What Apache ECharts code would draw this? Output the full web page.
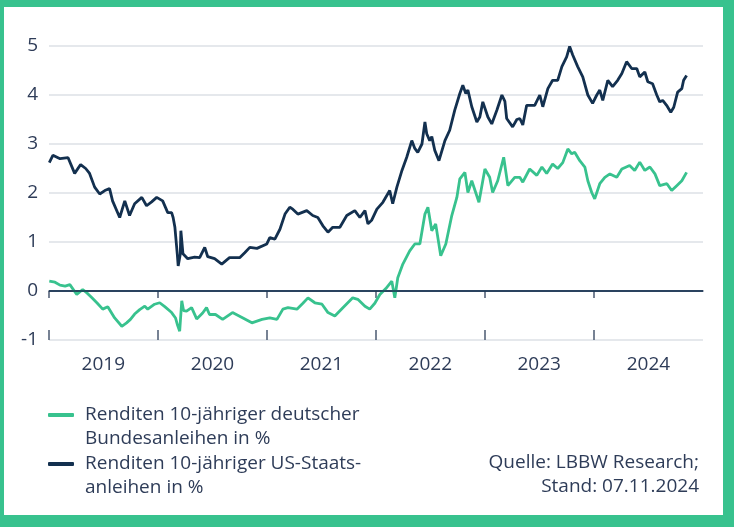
<!DOCTYPE html>
<html><head><meta charset="utf-8">
<script src="https://cdn.jsdelivr.net/npm/echarts@6/dist/echarts.min.js"></script>
<style>html,body{margin:0;padding:0;background:#38c28e}#c{width:734px;height:527px}</style>
</head><body><div id="c"></div>
<script>
const yearTicks = ['2019','2020','2021','2022','2023','2024'];
const yTicks = [-1,0,1,2,3,4,5];
const seriesNames = ['Renditen 10-jähriger deutscher\nBundesanleihen in %','Renditen 10-jähriger US-Staats-\nanleihen in %'];
const sourceLines = ['Quelle: LBBW Research;', 'Stand: 07.11.2024'];

const deDates = ['2019-01-02','2019-01-21','2019-02-07','2019-02-24','2019-03-12','2019-04-04','2019-04-24','2019-05-10','2019-05-25','2019-06-12','2019-06-30','2019-07-17','2019-08-09','2019-09-02','2019-09-18','2019-10-01','2019-10-15','2019-11-01','2019-11-18','2019-11-28','2019-12-21','2020-01-07','2020-01-24','2020-02-16','2020-02-29','2020-03-07','2020-03-14','2020-03-21','2020-03-27','2020-04-06','2020-04-23','2020-05-10','2020-05-30','2020-06-12','2020-06-22','2020-07-12','2020-08-05','2020-09-07','2020-10-12','2020-11-11','2020-12-15','2021-01-10','2021-02-03','2021-02-23','2021-03-12','2021-04-11','2021-05-01','2021-05-18','2021-06-10','2021-07-04','2021-07-24','2021-08-16','2021-09-12','2021-10-15','2021-11-01','2021-11-25','2021-12-11','2021-12-28','2022-01-14','2022-02-03','2022-02-23','2022-03-05','2022-03-15','2022-04-01','2022-04-24','2022-05-11','2022-05-28','2022-06-14','2022-06-24','2022-07-07','2022-07-20','2022-08-06','2022-08-23','2022-09-12','2022-09-29','2022-10-09','2022-10-26','2022-11-05','2022-11-18','2022-12-12','2023-01-01','2023-01-17','2023-01-27','2023-02-13','2023-03-05','2023-03-19','2023-04-11','2023-04-28','2023-05-08','2023-05-31','2023-06-24','2023-07-11','2023-07-27','2023-08-16','2023-09-02','2023-09-19','2023-10-06','2023-10-19','2023-10-29','2023-11-15','2023-12-02','2023-12-12','2023-12-25','2024-01-04','2024-01-21','2024-02-07','2024-02-24','2024-03-18','2024-04-04','2024-04-30','2024-05-17','2024-06-03','2024-06-20','2024-07-07','2024-07-24','2024-08-09','2024-09-02','2024-09-18','2024-10-05','2024-10-22','2024-11-07'];
const deYields = [0.20,0.18,0.12,0.10,0.13,-0.07,0.03,-0.05,-0.14,-0.25,-0.37,-0.32,-0.55,-0.72,-0.65,-0.58,-0.47,-0.38,-0.31,-0.37,-0.27,-0.24,-0.32,-0.44,-0.55,-0.70,-0.82,-0.20,-0.40,-0.41,-0.34,-0.57,-0.45,-0.34,-0.48,-0.48,-0.58,-0.44,-0.55,-0.65,-0.58,-0.55,-0.58,-0.37,-0.34,-0.37,-0.25,-0.14,-0.24,-0.27,-0.44,-0.51,-0.34,-0.14,-0.17,-0.31,-0.37,-0.25,-0.07,0.05,0.20,-0.14,0.27,0.55,0.82,0.96,0.96,1.57,1.71,1.23,1.37,0.72,0.96,1.54,1.91,2.29,2.42,2.01,2.25,1.81,2.49,2.32,2.01,2.25,2.73,2.15,2.32,2.32,2.22,2.49,2.36,2.53,2.40,2.59,2.50,2.62,2.90,2.80,2.83,2.66,2.53,2.25,2.01,1.88,2.19,2.32,2.39,2.32,2.49,2.56,2.46,2.63,2.46,2.53,2.39,2.15,2.19,2.05,2.15,2.25,2.42];

const usDates = ['2019-01-02','2019-01-14','2019-02-07','2019-03-06','2019-03-28','2019-04-17','2019-05-04','2019-05-17','2019-06-03','2019-06-20','2019-07-07','2019-07-23','2019-08-02','2019-08-26','2019-09-12','2019-09-28','2019-10-15','2019-11-08','2019-11-24','2019-12-11','2019-12-28','2020-01-17','2020-02-03','2020-02-16','2020-02-21','2020-02-27','2020-03-06','2020-03-09','2020-03-16','2020-03-18','2020-03-25','2020-04-10','2020-05-03','2020-05-20','2020-06-06','2020-06-16','2020-07-09','2020-08-02','2020-08-28','2020-10-01','2020-10-18','2020-11-04','2020-11-28','2020-12-31','2021-01-10','2021-01-27','2021-02-13','2021-03-02','2021-03-18','2021-03-28','2021-04-14','2021-05-14','2021-06-03','2021-06-20','2021-07-07','2021-07-24','2021-08-09','2021-09-02','2021-09-25','2021-10-22','2021-11-08','2021-11-25','2021-12-05','2021-12-18','2022-01-04','2022-01-24','2022-02-16','2022-02-26','2022-03-12','2022-03-29','2022-04-14','2022-05-01','2022-05-11','2022-05-21','2022-06-04','2022-06-14','2022-06-20','2022-06-30','2022-07-07','2022-07-17','2022-07-31','2022-08-20','2022-09-05','2022-09-22','2022-10-09','2022-10-19','2022-10-29','2022-11-05','2022-11-18','2022-12-05','2022-12-15','2022-12-25','2023-01-11','2023-01-24','2023-02-10','2023-02-27','2023-03-09','2023-03-15','2023-04-04','2023-04-18','2023-04-28','2023-05-08','2023-05-21','2023-06-17','2023-07-04','2023-07-14','2023-07-31','2023-08-16','2023-09-02','2023-09-16','2023-10-02','2023-10-12','2023-10-22','2023-11-08','2023-11-25','2023-12-12','2023-12-28','2024-01-11','2024-01-21','2024-01-31','2024-02-17','2024-03-04','2024-03-21','2024-04-04','2024-04-20','2024-05-07','2024-05-24','2024-06-03','2024-06-20','2024-06-30','2024-07-16','2024-07-30','2024-08-09','2024-08-19','2024-09-01','2024-09-15','2024-09-25','2024-10-08','2024-10-22','2024-10-28','2024-11-07'];
const usYields = [2.62,2.77,2.70,2.72,2.40,2.58,2.50,2.40,2.12,1.98,2.05,2.09,1.84,1.50,1.84,1.54,1.78,1.91,1.74,1.82,1.91,1.84,1.60,1.60,1.50,1.30,0.75,0.51,0.75,1.23,0.76,0.66,0.69,0.68,0.89,0.70,0.66,0.55,0.68,0.68,0.78,0.89,0.87,0.96,1.09,1.06,1.26,1.57,1.71,1.67,1.57,1.64,1.54,1.50,1.33,1.20,1.30,1.30,1.54,1.64,1.50,1.64,1.37,1.45,1.67,1.81,2.05,1.78,2.12,2.46,2.73,3.07,2.91,2.83,3.00,3.45,3.21,3.07,3.15,2.87,2.66,3.07,3.28,3.69,4.03,4.20,4.03,4.10,3.76,3.45,3.55,3.86,3.55,3.41,3.69,4.00,3.87,3.52,3.35,3.50,3.52,3.39,3.79,3.79,4.00,3.76,4.13,4.30,4.30,4.58,4.78,4.99,4.82,4.58,4.37,4.00,3.83,4.00,4.10,3.89,4.30,4.17,4.30,4.44,4.68,4.54,4.54,4.37,4.47,4.27,4.23,4.00,3.86,3.89,3.79,3.65,3.75,4.06,4.13,4.30,4.40];

const GREEN = '#38c28e', NAVY = '#13304f', TEXT = '#2e3c58', AXIS = '#4b5a72';
const FONT = '"Open Sans", "Noto Sans", sans-serif';
const ts = s => { const p = s.split('-'); return +new Date(+p[0], +p[1]-1, +p[2]); };
const yearStart = yearTicks.map(y => +new Date(+y, 0, 1));
const yearMid = yearTicks.map(y => +new Date(+y, 6, 2));
const pair = (d, v) => d.map((x, i) => [ts(x), v[i]]);

const chart = echarts.init(document.getElementById('c'));
const baseX = {
  type: 'value', min: +new Date(2019,0,1), max: +new Date(2025,0,1), position: 'bottom',
  splitLine: {show: false}
};
const legendCommon = {
  orient: 'vertical', left: 48, padding: 0, icon: 'roundRect', itemWidth: 26, itemHeight: 4, selectedMode: false,
  formatter: n => '\n' + n,
  textStyle: {fontSize: 19, fontFamily: FONT, color: TEXT, lineHeight: 24, padding: [0, 0, 0, 6]}
};
chart.setOption({
  backgroundColor: GREEN,
  animation: false,
  graphic: [
    {type: 'rect', left: 4, top: 7, z: -10, shape: {width: 719, height: 508}, style: {fill: '#fff'}},
    {type: 'text', right: 35, top: 453, style: {text: sourceLines[0], fill: TEXT, font: '19px ' + FONT}},
    {type: 'text', right: 35, top: 477, style: {text: sourceLines[1], fill: TEXT, font: '19px ' + FONT}}
  ],
  grid: {left: 49, right: 31, top: 46, bottom: 187},
  xAxis: [
    Object.assign({}, baseX, {
      axisLine: {show: true, lineStyle: {color: AXIS, width: 1.5}},
      axisTick: {show: true, inside: false, length: 7, lineStyle: {color: AXIS, width: 1.5}, customValues: yearStart},
      axisLabel: {show: true, customValues: yearMid, margin: 15, fontSize: 19, fontFamily: FONT, color: TEXT,
        formatter: v => String(new Date(v).getFullYear())}
    }),
    Object.assign({}, baseX, {
      axisLine: {show: false},
      axisTick: {show: true, inside: true, length: 10, lineStyle: {color: AXIS, width: 1.5}, customValues: yearStart},
      axisLabel: {show: false}
    })
  ],
  yAxis: {
    type: 'value', min: yTicks[0], max: yTicks[yTicks.length-1], interval: 1,
    axisLine: {show: false}, axisTick: {show: false},
    axisLabel: {margin: 11, fontSize: 19, fontFamily: FONT, color: TEXT},
    splitLine: {lineStyle: {color: '#dde1e6', width: 1.5}}
  },
  legend: [
    Object.assign({}, legendCommon, {top: 379, data: [{name: seriesNames[0], itemStyle: {color: GREEN}}]}),
    Object.assign({}, legendCommon, {top: 428, data: [{name: seriesNames[1], itemStyle: {color: NAVY}}]})
  ],
  series: [
    {name: seriesNames[0], type: 'line', data: pair(deDates, deYields), showSymbol: false, symbol: 'none',
     lineStyle: {color: GREEN, width: 2.8}, itemStyle: {color: GREEN}, z: 3,
     markLine: {silent: true, symbol: 'none', label: {show: false}, lineStyle: {color: NAVY, width: 1.5, type: 'solid'},
       emphasis: {disabled: true}, data: [{yAxis: 0}]}},
    {name: seriesNames[1], type: 'line', data: pair(usDates, usYields), showSymbol: false, symbol: 'none',
     lineStyle: {color: NAVY, width: 2.8}, itemStyle: {color: NAVY}, z: 4}
  ]
});
</script></body></html>
